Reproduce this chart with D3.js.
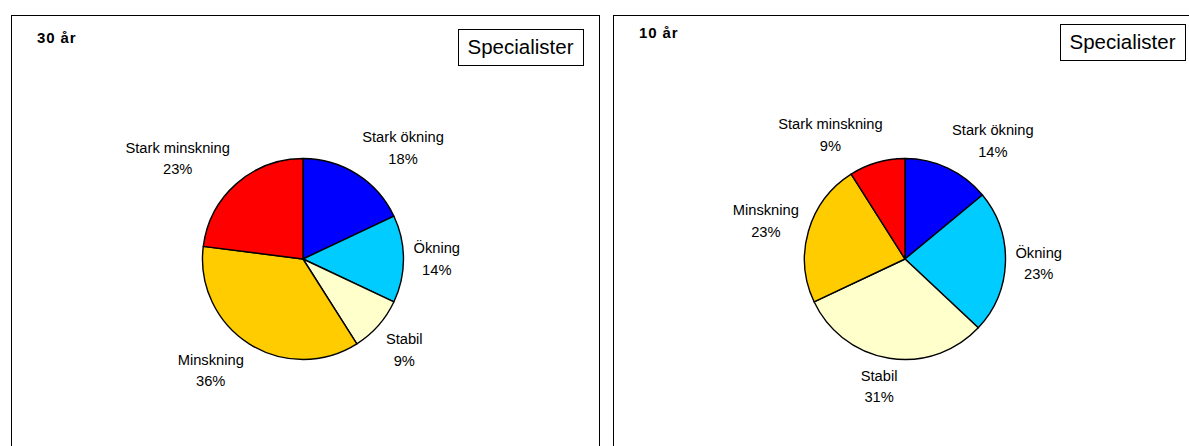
<!DOCTYPE html>
<html>
<head>
<meta charset="utf-8">
<script src="https://cdn.jsdelivr.net/npm/d3@7"></script>
<style>
  html, body { margin: 0; padding: 0; background: #fff; }
  svg { display: block; font-family: "Liberation Sans", Arial, sans-serif; }
</style>
</head>
<body>
<svg id="chart" width="1189" height="446"></svg>
<script>
// Categories shared by both pies (clockwise from 12 o'clock)
const categories = ["Stark ökning", "Ökning", "Stabil", "Minskning", "Stark minskning"];
const colors = ["#0000FF", "#00CCFF", "#FFFFCC", "#FFCC00", "#FF0000"];

// Share of answers (%) per horizon
const titles = ["30 år", "10 år"];
const values30 = [18, 14, 9, 36, 23];
const values10 = [14, 23, 31, 23, 9];
const legendText = "Specialister";

// Panel geometry
const panels = [
  { title: titles[0], values: values30, x: 11,  w: 588, titleDy: 0 },
  { title: titles[1], values: values10, x: 613, w: 600, titleDy: -5 }
];

const svg = d3.select("#chart");
const radius = 100.5;
const fontSize = 14.7;
const lineH = 21.5;

const pie = d3.pie().sort(null).value(d => d);
const arc = d3.arc().innerRadius(0).outerRadius(radius);

panels.forEach(p => {
  const g = svg.append("g").attr("transform", `translate(${p.x},15)`);

  // frame
  g.append("rect")
    .attr("x", 0.5).attr("y", 0.5)
    .attr("width", p.w).attr("height", 460)
    .attr("fill", "#fff").attr("stroke", "#000").attr("stroke-width", 1);

  // title
  g.append("text")
    .attr("x", 26).attr("y", 28 + p.titleDy)
    .attr("font-size", 15).attr("font-weight", "bold")
    .attr("letter-spacing", 0.9)
    .text(p.title);

  // legend box
  const lg = g.append("g").attr("transform", `translate(447,${14 + p.titleDy})`);
  lg.append("rect")
    .attr("x", 0.5).attr("y", 0.5).attr("width", 125).attr("height", 36)
    .attr("fill", "#fff").attr("stroke", "#000").attr("stroke-width", 1);
  lg.append("text")
    .attr("x", 62.5).attr("y", 25)
    .attr("text-anchor", "middle")
    .attr("font-size", 20.5)
    .text(legendText);

  // pie
  const cx = 292, cy = 244;
  const pg = g.append("g").attr("transform", `translate(${cx},${cy})`);
  const arcs = pie(p.values);

  pg.selectAll("path")
    .data(arcs)
    .join("path")
    .attr("d", arc)
    .attr("fill", (d, i) => colors[i])
    .attr("stroke", "#000")
    .attr("stroke-width", 1.4)
    .attr("stroke-linejoin", "round");

  // labels: box pushed outward from a point just outside the rim
  const gap = 10, kx = 3, ky = 1.5, halfH = 18;
  const clamp = v => Math.max(-1, Math.min(1, v));
  arcs.forEach((d, i) => {
    const mid = (d.startAngle + d.endAngle) / 2;
    const ux = Math.sin(mid), uy = -Math.cos(mid);
    const t = pg.append("text")
      .attr("font-size", fontSize)
      .attr("text-anchor", "middle");
    const l1 = t.append("tspan").text(categories[i]);
    const l2 = t.append("tspan").text(d.data + "%");
    const w = l1.node().getComputedTextLength();
    const px = (radius + gap) * ux + clamp(kx * ux) * w / 2;
    const py = (radius + gap) * uy + clamp(ky * uy) * halfH;
    l1.attr("x", px).attr("y", py - lineH / 2 + fontSize * 0.35);
    l2.attr("x", px).attr("y", py + lineH / 2 + fontSize * 0.35);
  });
});
</script>
</body>
</html>
